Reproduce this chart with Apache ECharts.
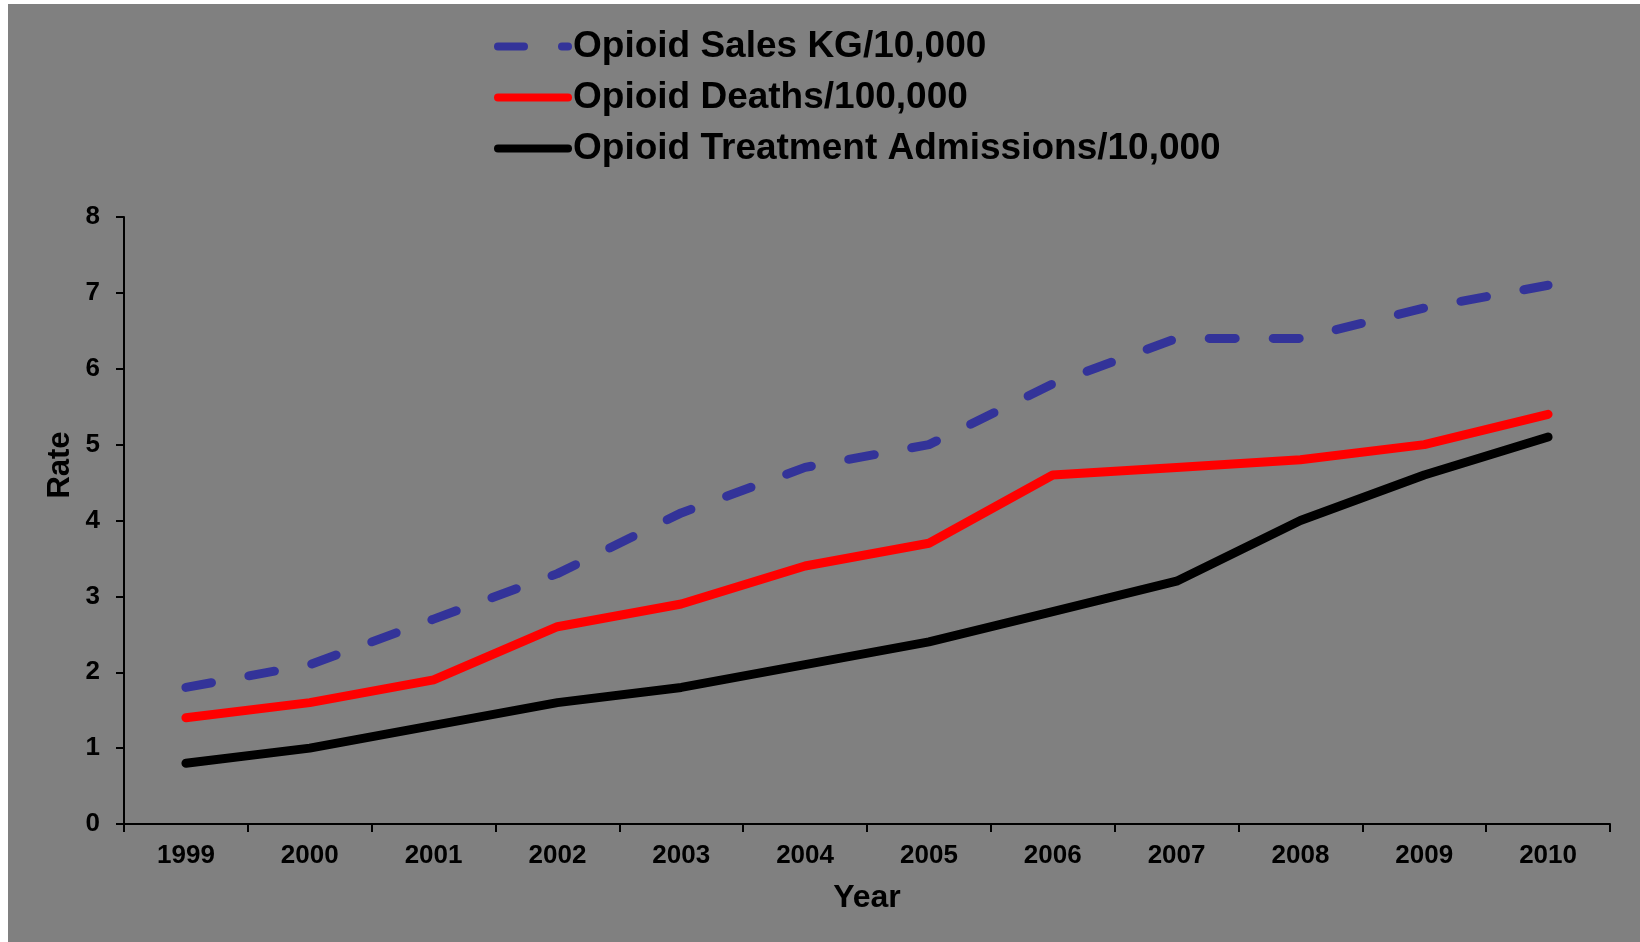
<!DOCTYPE html>
<html>
<head>
<meta charset="utf-8">
<title>Opioid rates</title>
<script src="https://cdn.jsdelivr.net/npm/echarts@6/dist/echarts.min.js"></script>
<style>
  html, body { margin: 0; padding: 0; background: #ffffff; }
  #chart { position: absolute; left: 8px; top: 4px; width: 1632px; height: 938px; }
</style>
</head>
<body>
<div id="chart"></div>
<script>
const YEARS = ['1999', '2000', '2001', '2002', '2003', '2004', '2005', '2006', '2007', '2008', '2009', '2010'];
const SALES = [1.8, 2.1, 2.7, 3.3, 4.1, 4.7, 5.0, 5.8, 6.4, 6.4, 6.8, 7.1];
const DEATHS = [1.4, 1.6, 1.9, 2.6, 2.9, 3.4, 3.7, 4.6, 4.7, 4.8, 5.0, 5.4];
const ADMISSIONS = [0.8, 1.0, 1.3, 1.6, 1.8, 2.1, 2.4, 2.8, 3.2, 4.0, 4.6, 5.1];
const SERIES_NAMES = ['Opioid Sales KG/10,000', 'Opioid Deaths/100,000', 'Opioid Treatment Admissions/10,000'];
const COLOR_LIST = ['#333399', '#ff0000', '#000000'];

const FONT = '"Liberation Sans", Arial, sans-serif';

// 一条折线
function makeLine(name, data, color, dashed) {
    return {
        name: name,
        type: 'line',
        data: data,
        symbol: 'none',
        silent: true,
        lineStyle: {
            color: color,
            width: 9,
            type: dashed ? [26, 38] : 'solid',
            cap: 'round',
            join: 'round'
        },
        itemStyle: {color: color}
    };
}

const chart = echarts.init(document.getElementById('chart'));
chart.setOption({
    backgroundColor: '#808080',
    animation: false,
    textStyle: {fontFamily: FONT},
    legend: {
        orient: 'vertical',
        left: 486,
        top: 24,
        padding: 0,
        itemWidth: 70,
        itemHeight: 8,
        itemGap: 14,
        selectedMode: false,
        data: SERIES_NAMES,
        lineStyle: {width: 8},
        itemStyle: {color: 'rgba(0,0,0,0)', borderColor: 'rgba(0,0,0,0)', borderWidth: 0},
        textStyle: {
            color: '#000',
            fontSize: 37,
            fontWeight: 'bold',
            fontFamily: FONT
        }
    },
    grid: {
        left: 116,
        right: 30,
        top: 213,
        bottom: 118
    },
    xAxis: {
        type: 'category',
        data: YEARS,
        boundaryGap: true,
        name: 'Year',
        nameLocation: 'middle',
        nameGap: 58,
        nameTextStyle: {color: '#000', fontSize: 32, fontWeight: 'bold', fontFamily: FONT},
        axisLine: {lineStyle: {color: '#000', width: 2}},
        axisTick: {show: true, length: 8, lineStyle: {color: '#000', width: 2}},
        axisLabel: {color: '#000', fontSize: 26, fontWeight: 'bold', margin: 19, fontFamily: FONT},
        splitLine: {show: false}
    },
    yAxis: {
        type: 'value',
        min: 0,
        max: 8,
        interval: 1,
        axisLine: {show: true, lineStyle: {color: '#000', width: 2}},
        axisTick: {show: true, length: 8, lineStyle: {color: '#000', width: 2}},
        axisLabel: {color: '#000', fontSize: 26, fontWeight: 'bold', margin: 24, fontFamily: FONT},
        splitLine: {show: false}
    },
    graphic: [{
        type: 'text',
        x: 52,
        y: 461,
        rotation: Math.PI / 2,
        style: {
            text: 'Rate',
            fill: '#000',
            font: 'bold 31px ' + FONT,
            textAlign: 'center',
            textVerticalAlign: 'middle'
        }
    }],
    series: [
        makeLine(SERIES_NAMES[0], SALES, COLOR_LIST[0], true),
        makeLine(SERIES_NAMES[1], DEATHS, COLOR_LIST[1], false),
        makeLine(SERIES_NAMES[2], ADMISSIONS, COLOR_LIST[2], false)
    ]
});
</script>
</body>
</html>
